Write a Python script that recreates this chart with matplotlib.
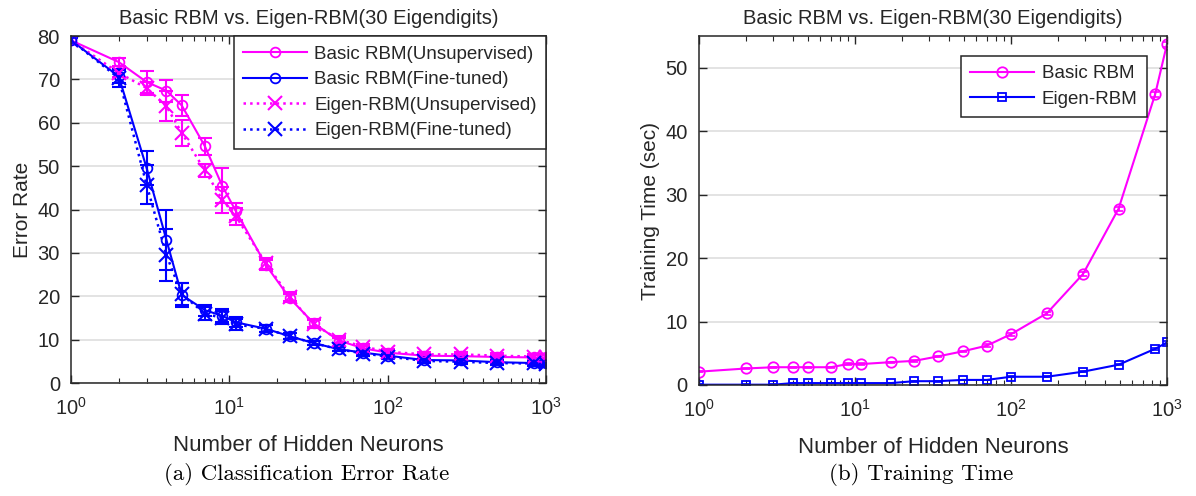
import matplotlib
matplotlib.use('Agg')
import matplotlib.pyplot as plt

# numero de neuronas ocultas (eje x, escala log)
neurons = [1, 2, 3, 4, 5, 7, 9, 11, 17, 24, 34, 49, 70, 100, 170, 290, 490, 840, 1000]

# error de clasificacion (%)
basic_unsup = [79.0, 74.0, 69.4, 67.4, 64.0, 54.6, 45.5, 39.6, 27.2, 19.6, 13.8, 9.8, 8.0, 7.0, 6.3, 6.2, 6.0, 5.9, 5.9]
basic_unsup_err = [0.5, 1.0, 2.5, 2.5, 2.5, 2.0, 4.0, 2.0, 1.2, 1.0, 1.0, 0.6, 0.5, 0.5, 0.5, 0.5, 0.5, 0.5, 0.5]
basic_ft = [79.0, 70.7, 49.6, 33.0, 20.3, 16.8, 15.5, 14.0, 12.5, 10.8, 9.2, 7.8, 7.0, 6.3, 5.3, 5.2, 4.8, 4.6, 4.6]
basic_ft_err = [0.5, 1.5, 4.0, 7.0, 2.7, 1.3, 1.5, 1.2, 0.8, 0.7, 0.5, 0.5, 0.5, 0.4, 0.4, 0.4, 0.4, 0.4, 0.4]
eigen_unsup = [79.0, 71.5, 68.0, 63.8, 57.7, 49.0, 42.3, 38.4, 27.6, 19.9, 13.6, 10.0, 8.4, 7.2, 6.6, 6.6, 6.3, 6.1, 6.1]
eigen_unsup_err = [0.5, 1.0, 1.5, 3.5, 3.0, 1.5, 3.0, 2.0, 1.2, 1.0, 1.0, 0.8, 0.6, 0.6, 0.6, 0.6, 0.6, 0.6, 0.6]
eigen_ft = [79.0, 70.3, 45.7, 29.5, 20.5, 16.0, 15.0, 13.5, 12.5, 10.8, 9.2, 7.8, 6.8, 6.1, 5.1, 4.9, 4.6, 4.5, 4.3]
eigen_ft_err = [0.5, 2.0, 4.5, 6.0, 2.5, 1.5, 1.5, 1.3, 0.8, 0.7, 0.5, 0.5, 0.5, 0.5, 0.5, 0.5, 0.5, 0.5, 0.5]

# tiempo de entrenamiento (s)
time_basic = [2.1, 2.6, 2.8, 2.8, 2.8, 2.8, 3.3, 3.3, 3.6, 3.8, 4.5, 5.3, 6.2, 8.0, 11.3, 17.5, 27.8, 45.8, 53.7]
time_basic_err = [0.1, 0.1, 0.1, 0.1, 0.1, 0.1, 0.1, 0.1, 0.1, 0.1, 0.1, 0.1, 0.2, 0.2, 0.2, 0.3, 0.3, 0.4, 0.4]
time_eigen = [0.05, 0.05, 0.05, 0.3, 0.3, 0.3, 0.3, 0.3, 0.3, 0.6, 0.6, 0.8, 0.8, 1.3, 1.3, 2.1, 3.2, 5.7, 6.7]
time_eigen_err = [0.05, 0.05, 0.05, 0.05, 0.05, 0.05, 0.05, 0.05, 0.05, 0.05, 0.05, 0.05, 0.05, 0.1, 0.1, 0.1, 0.1, 0.2, 0.2]

MAG = '#FF00FF'
BLU = '#0000FF'
TXT = '#262626'
TITLE = 'Basic RBM vs. Eigen-RBM(30 Eigendigits)'

plt.rcParams['font.family'] = ['Liberation Sans', 'DejaVu Sans']
plt.rcParams['font.size'] = 13
plt.rcParams['text.color'] = TXT
plt.rcParams['axes.labelcolor'] = TXT
plt.rcParams['xtick.color'] = TXT
plt.rcParams['ytick.color'] = TXT
plt.rcParams['axes.edgecolor'] = TXT

fig = plt.figure(figsize=(11.96, 4.96), dpi=100)
ax1 = fig.add_axes([0.0594, 0.2278, 0.3972, 0.6996])
ax2 = fig.add_axes([0.5844, 0.2238, 0.3913, 0.7036])


def estilo(ax):
    ax.set_xscale('log')
    ax.set_xlim(1, 1000)
    ax.grid(True, axis='y', color='#dedede', linewidth=1.2)
    ax.set_axisbelow(True)
    ax.tick_params(which='both', direction='in', top=True, right=True, labelsize=14.5)
    ax.tick_params(which='major', length=6, width=1)
    ax.tick_params(which='minor', length=3.5, width=0.8)
    ax.tick_params(axis='x', which='major', pad=10)
    ax.tick_params(axis='y', which='major', pad=8)
    for s in ax.spines.values():
        s.set_linewidth(1.1)
    ax.set_xlabel('Number of Hidden Neurons', fontsize=16, labelpad=12)
    ax.set_title(TITLE, fontsize=14.5, pad=9)


# Grafica (a): error
ek = dict(fmt='none', elinewidth=1.5, capsize=5, capthick=1.5)
ax1.errorbar(neurons, basic_unsup, yerr=basic_unsup_err, ecolor=MAG, **ek)
ax1.errorbar(neurons, basic_ft, yerr=basic_ft_err, ecolor=BLU, **ek)
ax1.errorbar(neurons, eigen_unsup, yerr=eigen_unsup_err, ecolor=MAG, **ek)
ax1.errorbar(neurons, eigen_ft, yerr=eigen_ft_err, ecolor=BLU, **ek)
ax1.plot(neurons, basic_unsup, '-o', color=MAG, lw=1.5, ms=7, mfc='none', mew=1.3,
         label='Basic RBM(Unsupervised)')
ax1.plot(neurons, basic_ft, '-o', color=BLU, lw=1.5, ms=7, mfc='none', mew=1.3,
         label='Basic RBM(Fine-tuned)')
ax1.plot(neurons, eigen_unsup, ':x', color=MAG, lw=1.8, ms=10, mew=1.5,
         label='Eigen-RBM(Unsupervised)')
ax1.plot(neurons, eigen_ft, ':x', color=BLU, lw=1.8, ms=10, mew=1.5,
         label='Eigen-RBM(Fine-tuned)')
ax1.set_ylim(0, 80)
ax1.set_yticks(range(0, 81, 10))
ax1.set_ylabel('Error Rate', fontsize=15)
estilo(ax1)
leg1 = ax1.legend(loc='upper right', borderaxespad=0, fontsize=13.5, handlelength=3.4,
                  fancybox=False, edgecolor=TXT, framealpha=1, borderpad=0.5,
                  labelspacing=0.45, handletextpad=0.4)
leg1.get_frame().set_linewidth(1.1)

# Grafica (b): tiempo
tk = dict(fmt='none', elinewidth=1.2, capsize=3, capthick=1.2)
ax2.errorbar(neurons, time_basic, yerr=time_basic_err, ecolor=MAG, **tk)
ax2.errorbar(neurons, time_eigen, yerr=time_eigen_err, ecolor=BLU, **tk)
ax2.plot(neurons, time_basic, '-o', color=MAG, lw=1.5, ms=7.5, mfc='none', mew=1.3,
         label='Basic RBM')
ax2.plot(neurons, time_eigen, '-s', color=BLU, lw=1.5, ms=5.5, mfc='none', mew=1.3,
         label='Eigen-RBM')
ax2.set_ylim(0, 55)
ax2.set_yticks(range(0, 51, 10))
ax2.set_ylabel('Training Time (sec)', fontsize=15)
estilo(ax2)
leg2 = ax2.legend(loc='upper right', bbox_to_anchor=(0.957, 0.943), borderaxespad=0,
                  fontsize=13.5, handlelength=3.4, fancybox=False, edgecolor=TXT,
                  framealpha=1, borderpad=0.5, labelspacing=0.45, handletextpad=0.4)
leg2.get_frame().set_linewidth(1.1)

# Pies de figura
fig.text(0.256, 0.044, '(a) Classification Error Rate', family='cmr10', fontsize=16.5,
         ha='center', va='center', color='black')
fig.text(0.770, 0.044, '(b) Training Time', family='cmr10', fontsize=16.5,
         ha='center', va='center', color='black')

fig.savefig('out.png', dpi=100)
